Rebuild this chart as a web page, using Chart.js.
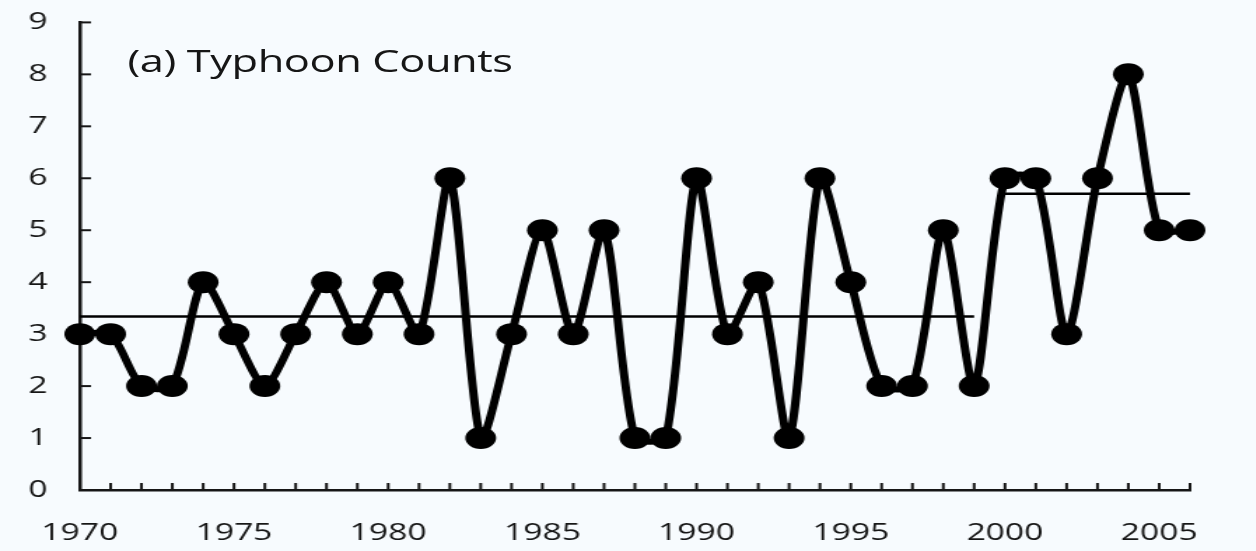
<!DOCTYPE html>
<html>
<head>
<meta charset="utf-8">
<title>Typhoon Counts</title>
<script src="https://cdn.jsdelivr.net/npm/chart.js@4.4.1/dist/chart.umd.min.js"></script>
<style>
  html, body { margin: 0; padding: 0; background: #f7fbfe; overflow: hidden; }
  /* the original figure is stretched sideways, so the whole plot is drawn narrow and scaled */
  #wrap {
    position: absolute; left: 0; top: -7px;
    width: 897px; height: 558px;
    transform: scaleX(1.4); transform-origin: 0 0;
  }
  #panel {
    position: absolute; left: 91px; top: 52px;
    font: 31px/31px "Open Sans", sans-serif; color: #161616;
    white-space: nowrap; letter-spacing: -0.3px;
  }
</style>
</head>
<body>
<div id="wrap">
  <canvas id="chart"></canvas>
  <div id="panel">(a) Typhoon Counts</div>
</div>
<script>
// ---------- Data ----------
const years = [
  1970, 1971, 1972, 1973, 1974, 1975, 1976, 1977, 1978, 1979,
  1980, 1981, 1982, 1983, 1984, 1985, 1986, 1987, 1988, 1989,
  1990, 1991, 1992, 1993, 1994, 1995, 1996, 1997, 1998, 1999,
  2000, 2001, 2002, 2003, 2004, 2005, 2006
];
const counts = [
  3, 3, 2, 2, 4, 3, 2, 3, 4, 3,
  4, 3, 6, 1, 3, 5, 3, 5, 1, 1,
  6, 3, 4, 1, 6, 4, 2, 2, 5, 2,
  6, 6, 3, 6, 8, 5, 5
];

// period means (horizontal lines)
const earlyYears = [1970, 1999];
const earlyMean = [3.34, 3.34];
const lateYears = [2000, 2006];
const lateMean = [5.7, 5.7];

// axis ticks
const xLabelYears = [1970, 1975, 1980, 1985, 1990, 1995, 2000, 2005];
const yTicks = [0, 1, 2, 3, 4, 5, 6, 7, 8, 9];

const toPoints = (xs, ys) => xs.map((x, i) => ({ x: x, y: ys[i] }));

// ---------- Inward tick marks ----------
const innerTicks = {
  id: "innerTicks",
  beforeDatasetsDraw(chart) {
    const { ctx, scales: { x, y } } = chart;
    ctx.save();
    ctx.strokeStyle = "#161616";
    ctx.lineWidth = 2;
    x.ticks.forEach(t => {
      const px = x.getPixelForValue(t.value);
      ctx.beginPath();
      ctx.moveTo(px, y.bottom);
      ctx.lineTo(px, y.bottom - 7);
      ctx.stroke();
    });
    y.ticks.forEach(t => {
      const py = y.getPixelForValue(t.value);
      ctx.beginPath();
      ctx.moveTo(x.left, py);
      ctx.lineTo(x.left + 8, py);
      ctx.stroke();
    });
    ctx.restore();
  }
};

const tickFont = { family: "'Open Sans', sans-serif", size: 24 };

new Chart(document.getElementById("chart"), {
  type: "line",
  data: {
    datasets: [
      {
        data: toPoints(years, counts),
        borderColor: "#000",
        backgroundColor: "#000",
        borderWidth: 6,
        tension: 0.25,
        pointRadius: 11,
        pointHoverRadius: 11,
        pointBorderWidth: 0,
        clip: false
      },
      {
        data: toPoints(earlyYears, earlyMean),
        borderColor: "#000",
        borderWidth: 2.5,
        pointRadius: 0,
        clip: false
      },
      {
        data: toPoints(lateYears, lateMean),
        borderColor: "#000",
        borderWidth: 2.5,
        pointRadius: 0,
        clip: false
      }
    ]
  },
  options: {
    responsive: true,
    maintainAspectRatio: false,
    animation: false,
    events: [],
    layout: { padding: { top: 4, right: 47, left: 0, bottom: 0 } },
    plugins: {
      legend: { display: false },
      tooltip: { enabled: false }
    },
    scales: {
      x: {
        type: "linear",
        min: years[0],
        max: years[years.length - 1],
        grid: { display: false },
        border: { display: true, color: "#161616", width: 2.5 },
        ticks: {
          stepSize: 1,
          autoSkip: false,
          maxRotation: 0,
          padding: 21,
          color: "#161616",
          font: tickFont,
          callback: v => (xLabelYears.includes(v) ? String(v) : "")
        },
        afterFit: s => { s.height = 61; }
      },
      y: {
        min: yTicks[0],
        max: yTicks[yTicks.length - 1],
        grid: { display: false },
        border: { display: true, color: "#161616", width: 2.5 },
        ticks: {
          stepSize: 1,
          padding: 15,
          color: "#161616",
          font: tickFont
        },
        afterFit: s => { s.width = 57; }
      }
    }
  },
  plugins: [innerTicks]
});
</script>
</body>
</html>
